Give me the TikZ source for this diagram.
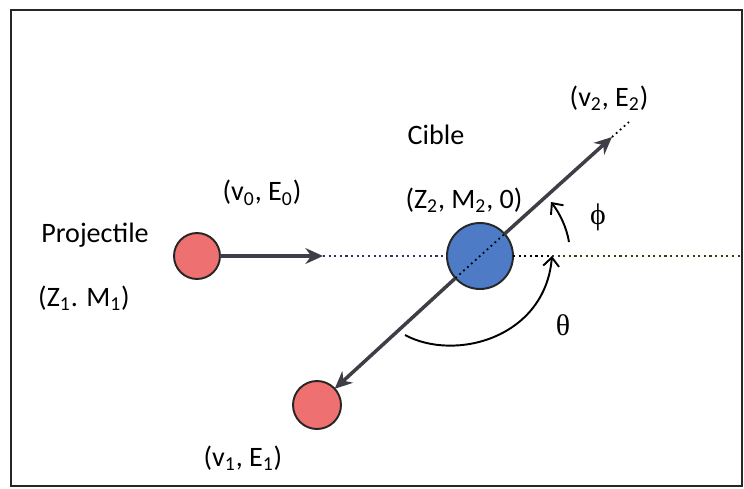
\documentclass[tikz,border=0pt]{standalone}
\usepackage{fontspec}
\setmainfont{Carlito}
\newfontfamily\greekfont{Liberation Serif}
\usepackage{tikz}
\usetikzlibrary{arrows.meta,positioning,calc}
\definecolor{projc}{HTML}{EE7070}
\definecolor{ciblec}{HTML}{4D7BC6}
\definecolor{trackc}{HTML}{3E3E46}
\definecolor{incc}{HTML}{3A2C6E}
\definecolor{axisc}{HTML}{36420E}
\tikzset{
  lbl/.style={font=\fontsize{16}{18}\selectfont, inner sep=0pt},
  greek/.style={font=\fontsize{17}{19}\selectfont\greekfont, inner sep=0pt},
  particle/.style={circle, draw=black!85, line width=1.1pt, inner sep=0pt, outer sep=0pt},
  track/.style={trackc, line width=2pt},
  anglearrow/.style={black, line width=1.1pt, -{Straight Barb[length=5pt,width=9pt,line width=1.1pt]}}
}

\begin{document}
\begin{tikzpicture}[x=0.02cm, y=-0.02cm]
  \useasboundingbox (0,0) rectangle (744,488);
  \draw[black!85, line width=1.3pt] (11,10) rectangle (742,486);
  % particles
  \coordinate (v0tip) at (323,256);
  \coordinate (v2tip) at (612,137);
  \coordinate (v2end) at (629,122);
  \coordinate (thetatip) at (552,256);
  \coordinate (axisend) at (740,256);
  \node[particle, fill=projc, minimum size=0.92cm] (proj) at (197,256) {};
  \node[particle, fill=projc, minimum size=0.96cm] (recul) at (317,405) {};
  \node[particle, fill=ciblec, minimum size=1.32cm] (cible) at (480,256) {};
  \draw[track, -{Stealth[length=10pt,width=9pt]}] (cible.42) -- (v2tip);
  \draw[track, -{Stealth[length=10pt,width=9pt]}] (cible.222) -- (recul);
  \draw[black, dotted, line width=1pt] (cible.222) -- (cible.42);
  \draw[black, dotted, line width=1pt] (v2tip) -- (v2end);
  \draw[track, -{Stealth[length=10pt,width=9pt]}] (proj) -- (v0tip);
  \draw[incc, dotted, line width=1.2pt] (v0tip) -- (cible.west);
  \draw[black, dotted, line width=1.2pt] (cible.east) -- (thetatip);
  \draw[axisc, dotted, line width=1.2pt] (thetatip) -- (axisend);
  % angles
  \draw[anglearrow] (569,242) .. controls (566.6,227.5) and (560,213.7) .. (551,202);
  \draw[anglearrow] (405,335) .. controls (455,362) and (545,338) .. (thetatip);
  % labels
  \node[lbl] (projlbl) at (95,235) {Projectile};
  \node[lbl] (projzm) at (84,298) {(Z\textsubscript{1}. M\textsubscript{1})};
  \node[lbl] (v0lbl) at (262,193) {(v\textsubscript{0}, E\textsubscript{0})};
  \node[lbl] (ciblelbl) at (436,135) {Cible};
  \node[lbl] (ciblezm) at (464,200) {(Z\textsubscript{2}, M\textsubscript{2}, 0)};
  \node[lbl] (v2lbl) at (609,98) {(v\textsubscript{2}, E\textsubscript{2})};
  \node[lbl] (v1lbl) at (243,458) {(v\textsubscript{1}, E\textsubscript{1})};
  \node[greek] (philbl) at (598,217) {ϕ};
  \node[greek] (thetalbl) at (563,325) {θ};
\end{tikzpicture}
\end{document}
